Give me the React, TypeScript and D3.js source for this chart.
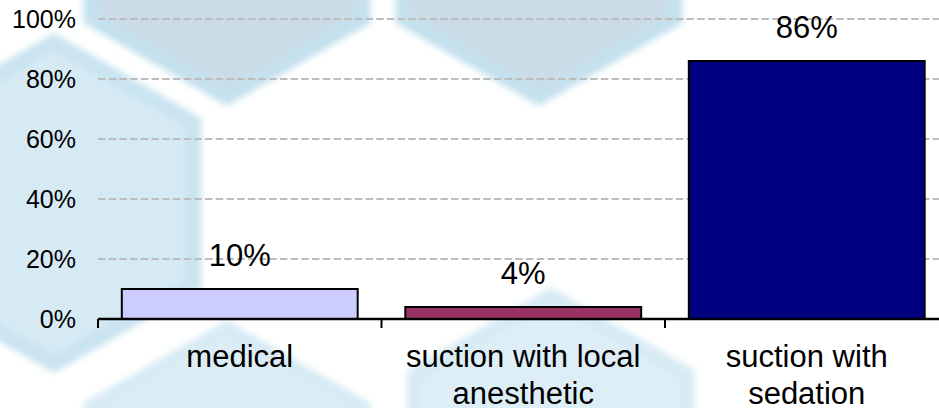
import React from "react";
import * as d3 from "d3";

// chart data
const categories = ["medical", "suction with local anesthetic", "suction with sedation"];
const categoryLines = [["medical"], ["suction with local", "anesthetic"], ["suction with", "sedation"]];
const values = [10, 4, 86];
const valueLabels = ["10%", "4%", "86%"];
const barColors = ["#CCCCFF", "#993366", "#000080"];
const yTicks = [0, 20, 40, 60, 80, 100];

const width = 939;
const height = 408;
const font = "'Liberation Sans', Arial, Helvetica, sans-serif";

// background watermark tiles (decoration only)
const tiles = [
  { cx: 54, cy: 203, r: 170, outer: "#c9e4f0", inner: "#d6eaf4" },
  { cx: 227, cy: -60, r: 166, outer: "#c5e1ee", inner: "#cbdce6" },
  { cx: 539, cy: -60, r: 166, outer: "#c5e1ee", inner: "#cbdce6" },
  { cx: 227, cy: 486, r: 166, outer: "#d8ebf4", inner: "#dcedf5" },
  { cx: 551, cy: 453, r: 166, outer: "#d8ebf4", inner: "#ddeef6" },
];

const hexPath = (cx: number, cy: number, r: number) => {
  const pts = d3.range(6).map((i) => {
    const a = ((-90 + 60 * i) * Math.PI) / 180;
    return [cx + r * Math.cos(a), cy + r * Math.sin(a)] as [number, number];
  });
  return d3.line()(pts) + "Z";
};

const App = () => {
  const step = 283.5;
  const x = d3
    .scaleBand()
    .domain(categories)
    .range([98, 98 + step * categories.length])
    .padding(0);

  const y = d3.scaleLinear().domain([0, 100]).range([319, 19]);

  const barW = x.bandwidth() * 0.832;
  const barOff = (x.bandwidth() - barW) / 2;

  return (
    <svg
      width={width}
      height={height}
      style={{ position: "absolute", left: 0, top: 0, display: "block", background: "#fff" }}
      fontFamily={font}
    >
      <defs>
        <filter id="soft" x="-10%" y="-10%" width="120%" height="120%">
          <feGaussianBlur stdDeviation="3" />
        </filter>
      </defs>

      {/* watermark */}
      <g filter="url(#soft)">
        {tiles.map((t, i) => (
          <g key={i}>
            <path d={hexPath(t.cx, t.cy, t.r)} fill={t.outer} />
            <path d={hexPath(t.cx, t.cy, t.r - 18)} fill={t.inner} />
          </g>
        ))}
      </g>

      {/* gridlines */}
      {yTicks
        .filter((t) => t > 0)
        .map((t) => (
          <line
            key={t}
            x1={98}
            x2={width}
            y1={y(t)}
            y2={y(t)}
            stroke="#bdbdbd"
            strokeWidth={2}
            strokeDasharray="7.5 3.2"
          />
        ))}

      {/* y tick labels */}
      {yTicks.map((t) => (
        <text key={t} x={76} y={y(t) + 9.3} textAnchor="end" fontSize={25} fill="#000">
          {t}%
        </text>
      ))}

      {/* bars */}
      {categories.map((c, i) => (
        <rect
          key={c}
          x={x(c)! + barOff}
          y={y(values[i])}
          width={barW}
          height={y(0) - y(values[i])}
          fill={barColors[i]}
          stroke="#000"
          strokeWidth={2}
        />
      ))}

      {/* x axis */}
      <line x1={98} x2={width} y1={y(0)} y2={y(0)} stroke="#000" strokeWidth={2.5} />
      {categories.map((c) => (
        <line key={c} x1={x(c)} x2={x(c)} y1={y(0)} y2={y(0) + 9} stroke="#000" strokeWidth={2} />
      ))}

      {/* value labels */}
      {categories.map((c, i) => (
        <text
          key={c}
          x={x(c)! + x.bandwidth() / 2}
          y={y(values[i]) - 23}
          textAnchor="middle"
          fontSize={31}
          fill="#000"
        >
          {valueLabels[i]}
        </text>
      ))}

      {/* category labels */}
      {categories.map((c, i) => (
        <text key={c} textAnchor="middle" fontSize={31} fill="#000">
          {categoryLines[i].map((ln, j) => (
            <tspan key={j} x={x(c)! + x.bandwidth() / 2} y={367 + j * 37}>
              {ln}
            </tspan>
          ))}
        </text>
      ))}
    </svg>
  );
};

export default App;
